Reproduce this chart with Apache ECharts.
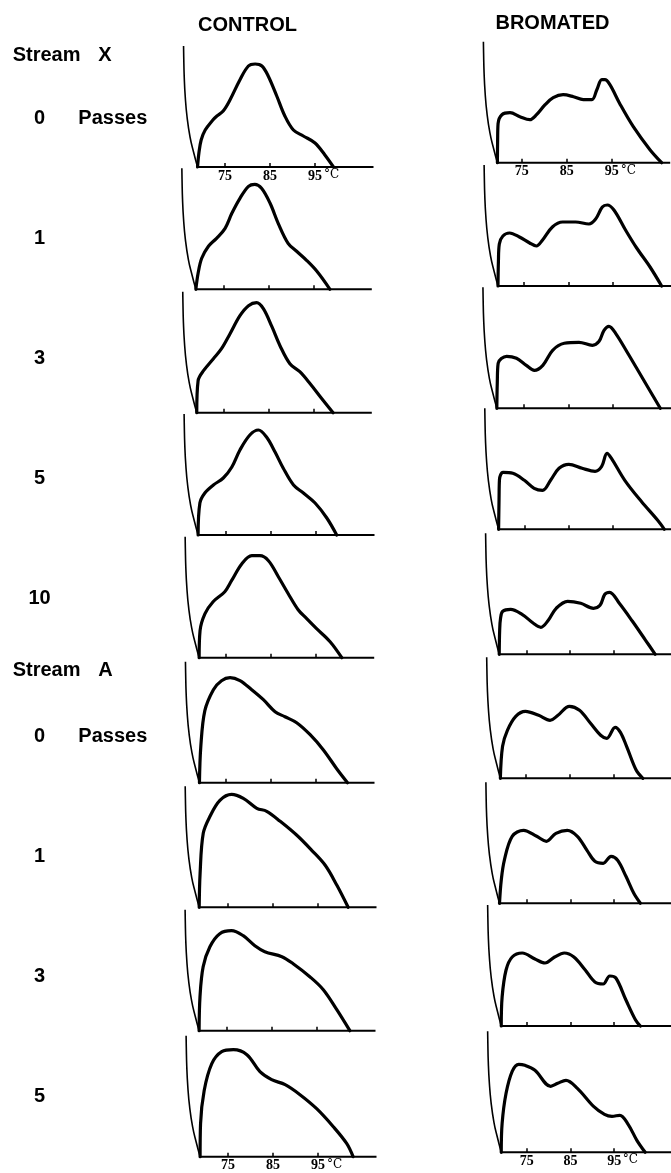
<!DOCTYPE html>
<html><head><meta charset="utf-8">
<script src="https://cdn.jsdelivr.net/npm/echarts@6/dist/echarts.min.js"></script>
<style>html,body{margin:0;padding:0;background:#fff}#c{width:671px;height:1173px}</style>
</head><body><div id="c"></div>
<script>
// ---------------- DATA ----------------
const columnTitles = ['CONTROL', 'BROMATED'];
const rowLabels = ['0', '1', '3', '5', '10', '0', '1', '3', '5'];
const streamNames = ['X', 'A'];
const passesWord = 'Passes';
const tickValues = [75, 85, 95];
const unitLabel = '°C';

// temperature (°C), pen height
const control_X0 = [[68.9,0],[69.2,14],[69.7,27],[70.6,37],[72.3,47],[73.2,51],[74.6,56],[76.1,67],[78.3,87],[80.2,101],[81.7,103],[83.2,101],[84.6,91],[86.5,71],[88.3,51],[90.2,37],[92.4,31],[95.0,24],[97.2,12],[99.1,0]];
const control_X1 = [[68.9,0],[69.4,16],[70.2,31],[71.7,43],[73.5,51],[75.4,61],[76.9,76],[78.7,91],[80.6,103],[82.0,105],[83.5,101],[85.4,86],[87.2,66],[89.4,46],[91.3,38],[93.5,29],[95.8,18],[98.7,0]];
const control_X3 = [[69.1,0],[69.4,32],[70.6,42],[72.8,54],[74.6,64],[76.5,79],[78.7,97],[80.6,107],[82.4,110],[83.9,104],[85.8,86],[87.6,67],[89.8,49],[92.0,41],[94.3,29],[96.9,14],[99.4,0]];
const control_X5 = [[68.8,0],[69.2,32],[70.3,42],[72.2,50],[74.4,57],[76.3,68],[78.1,85],[80.3,100],[82.2,105],[84.0,98],[85.9,83],[87.7,67],[90.0,50],[92.2,42],[94.8,32],[97.4,17],[99.6,0]];
const control_X10 = [[69.1,0],[69.3,27],[70.4,44],[72.2,56],[74.8,66],[76.3,77],[78.6,94],[80.8,102],[82.6,102],[84.5,97],[86.7,81],[88.9,64],[91.1,48],[93.0,39],[95.2,29],[98.2,16],[100.8,0]];
const control_A0 = [[69.1,0],[69.4,36],[70.3,72],[72.2,93],[74.0,102],[75.9,105],[78.1,102],[80.7,93],[83.3,83],[85.9,71],[88.1,66],[90.7,60],[93.7,48],[96.6,33],[99.6,14],[102.0,0]];
const control_A1 = [[68.6,0],[68.8,34],[69.5,74],[71.0,91],[73.2,107],[75.8,113],[78.4,109],[81.4,99],[83.6,96],[86.6,86],[90.3,72],[93.6,57],[96.6,42],[99.2,22],[101.7,0]];
const control_A3 = [[68.8,0],[69.0,34],[69.7,64],[71.2,84],[73.4,97],[76.0,100],[78.6,95],[81.2,85],[83.4,79],[87.2,74],[89.7,67],[93.4,54],[96.4,41],[99.4,21],[102.3,0]];
const control_A5 = [[68.8,0],[68.9,33],[69.7,66],[71.4,93],[73.6,105],[76.2,107],[79.2,102],[82.1,85],[84.7,77],[87.7,72],[91.0,62],[94.7,48],[98.4,30],[101.4,13],[102.8,0]];

const bromated_X0 = [[69.6,0],[69.65,22],[69.75,39],[70.6,48],[72.4,50],[74.6,46],[76.8,43],[78.3,48],[80.2,58],[82.0,65],[84.2,68],[86.5,66],[88.7,63],[90.6,63],[91.7,73],[92.8,83],[93.5,83],[94.6,78],[96.8,59],[99.8,36],[103.5,13],[106.1,0]];
const bromated_X1 = [[69.2,0],[69.3,25],[69.5,42],[70.3,50],[71.8,53],[74.0,49],[76.3,43],[77.8,40],[79.2,46],[81.4,59],[83.7,64],[86.6,64],[89.6,62],[91.1,67],[92.6,79],[93.7,81],[95.2,76],[97.8,56],[100.3,38],[103.3,19],[105.9,0]];
const bromated_X3 = [[69.0,0],[69.1,25],[69.3,45],[71.2,52],[73.4,50],[75.6,43],[77.4,38],[79.3,43],[81.5,58],[84.1,65],[87.4,66],[90.4,63],[91.9,67],[93.0,78],[94.1,82],[95.6,75],[98.6,53],[101.9,28],[105.6,0]];
const bromated_X5 = [[69.2,0],[69.3,30],[69.4,50],[70.2,57],[72.4,56],[75.0,49],[77.2,41],[79.1,39],[80.9,49],[82.8,61],[85.0,65],[88.0,61],[90.9,58],[92.4,63],[93.6,76],[94.6,71],[97.6,49],[101.3,28],[105.0,9],[106.5,0]];
const bromated_X10 = [[68.8,0],[68.9,24],[69.1,36],[69.6,43],[71.4,45],[74.0,40],[76.6,31],[78.3,27],[80.0,34],[81.8,46],[84.4,53],[87.4,51],[90.3,46],[91.8,49],[92.9,60],[94.0,62],[96.2,51],[99.2,33],[102.2,14],[104.4,0]];
const bromated_A0 = [[69.2,0],[69.7,32],[70.8,48],[72.7,62],[74.9,67],[77.9,63],[80.5,58],[82.3,63],[84.9,72],[87.2,68],[89.7,55],[92.0,43],[93.4,40],[95.3,51],[96.5,46],[97.9,32],[100.1,8],[101.6,0]];
const bromated_A1 = [[68.8,0],[69.2,23],[69.9,43],[71.7,67],[74.3,73],[77.3,67],[79.5,62],[81.7,70],[84.3,73],[86.6,67],[88.8,53],[90.6,42],[92.5,40],[94.3,47],[95.8,43],[97.7,27],[99.5,10],[101.0,0]];
const bromated_A3 = [[69.2,0],[69.4,29],[70.3,56],[71.7,69],[74.0,73],[76.9,67],[79.2,63],[81.4,69],[83.6,73],[85.8,69],[88.4,56],[90.6,44],[92.5,42],[94.0,50],[95.4,48],[97.7,26],[99.9,6],[101.0,0]];
const bromated_A5 = [[69.2,0],[69.4,29],[70.3,59],[71.7,81],[73.2,88],[74.6,87],[76.9,82],[80.5,66],[82.1,69],[84.0,72],[86.6,64],[90.3,46],[92.8,38],[94.5,36],[96.3,37],[98.2,28],[100.2,12],[102.1,0]];

// recorder pen arc (left edge of each trace): rise and sideways lean (°C)
const arcRise = [0, 15, 30, 50, 70, 90, 110, 121];
const arcLean = [0, -0.89, -1.67, -2.33, -2.73, -2.96, -3.07, -3.11];

// ---------------- LAYOUT ----------------
const controlCurves = [control_X0, control_X1, control_X3, control_X5, control_X10, control_A0, control_A1, control_A3, control_A5];
const bromatedCurves = [bromated_X0, bromated_X1, bromated_X3, bromated_X5, bromated_X10, bromated_A0, bromated_A1, bromated_A3, bromated_A5];
const columns = [controlCurves, bromatedCurves];

const ROW_BASE = [[167,162.7],[289.3,286],[412.7,408.3],[535,529.3],[657.7,654.3],[782.7,778.3],[907.3,903.3],[1030.7,1026],[1156.7,1152.3]];
const ROW_X75 = [[225,521.7],[223.3,524.3],[223.3,524],[226,525],[225.7,527.7],[226,527],[228,528],[227,528],[228,528]];
const LABEL_Y = [118, 238, 358, 478, 598, 736, 856, 976, 1096];
const STREAM_Y = [55.3, 670];
const PX = 4.5, AX_MIN = 64, AX_MAX = 108, Y_MAX = 130, UNIT_POS = 98.7;

const grids = [], xAxes = [], yAxes = [], series = [];
let gi = 0;
for (let r = 0; r < 9; r++) {
  for (let c = 0; c < 2; c++) {
    const base = ROW_BASE[r][c], x75 = ROW_X75[r][c];
    grids.push({ left: x75 - (75 - AX_MIN) * PX, top: base - Y_MAX, width: (AX_MAX - AX_MIN) * PX, height: Y_MAX });
    const showLab = (r === 0 || r === 8);
    xAxes.push({
      gridIndex: gi, type: 'value', min: AX_MIN, max: AX_MAX,
      axisLine: { show: false }, splitLine: { show: false },
      axisTick: { show: true, inside: true, length: 4, customValues: tickValues, lineStyle: { color: '#000', width: 1.5 } },
      axisLabel: {
        show: showLab, customValues: tickValues.concat([UNIT_POS]), margin: 2,
        formatter: v => (v === UNIT_POS ? '{u|' + unitLabel + '}' : '{n|' + v + '}'),
        rich: {
          n: { fontFamily: 'Liberation Serif', fontWeight: 'bold', fontSize: 14, color: '#000' },
          u: { fontFamily: 'DejaVu Serif', fontSize: 12, color: '#000' }
        }
      }
    });
    yAxes.push({ gridIndex: gi, type: 'value', min: 0, max: Y_MAX, show: false });
    const curve = columns[c][r];
    const start = curve[0][0];
    const common = { type: 'line', xAxisIndex: gi, yAxisIndex: gi, showSymbol: false, clip: false, silent: true, animation: false };
    series.push(Object.assign({}, common, { data: arcRise.map((h, i) => [start + arcLean[i], h]), smooth: 0.5, lineStyle: { color: '#000', width: 1.6 } }));
    series.push(Object.assign({}, common, { data: [[start, 0], [AX_MAX, 0]], lineStyle: { color: '#000', width: 2 } }));
    series.push(Object.assign({}, common, { data: curve, smooth: 0.35, lineStyle: { color: '#000', width: 3.2, cap: 'round', join: 'round' } }));
    gi++;
  }
}

const FONT = 'bold 20px "Liberation Sans"';
const texts = [];
function addText(str, x, y, align) {
  texts.push({ type: 'text', x: x, y: y, style: { text: str, font: FONT, fill: '#000', align: align || 'left', verticalAlign: 'middle' } });
}
addText(columnTitles[0], 247.5, 25.8, 'center');
addText(columnTitles[1], 552.5, 23.3, 'center');
for (let s = 0; s < 2; s++) {
  addText('Stream', 12.7, STREAM_Y[s]);
  addText(streamNames[s], 98.3, STREAM_Y[s]);
}
for (let r = 0; r < 9; r++) {
  addText(rowLabels[r], 39.5, LABEL_Y[r], 'center');
  if (r === 0 || r === 5) addText(passesWord, 78.3, LABEL_Y[r]);
}

const chart = echarts.init(document.getElementById('c'), null, { renderer: 'canvas' });
chart.setOption({
  animation: false,
  backgroundColor: '#fff',
  grid: grids, xAxis: xAxes, yAxis: yAxes, series: series,
  graphic: texts
});
</script></body></html>
